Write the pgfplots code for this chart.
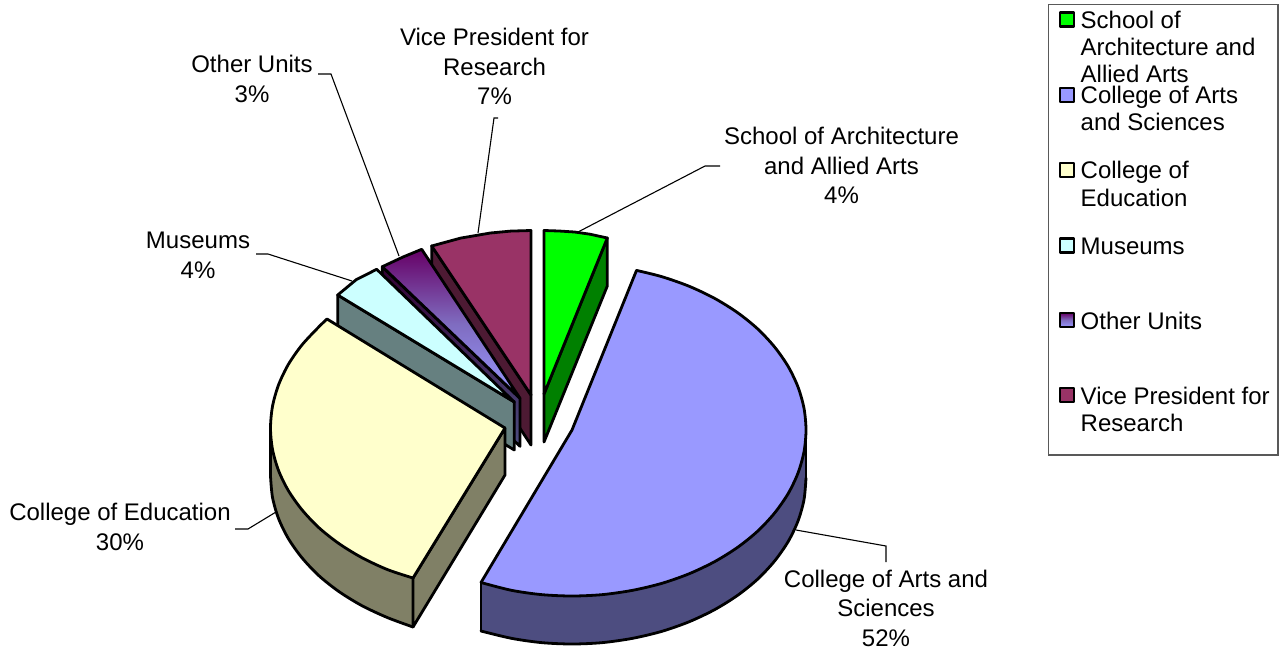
\documentclass[border=0pt]{standalone}
\usepackage{pgfplots}
\usepackage{fontspec}
\setmainfont{Liberation Sans}
\pgfplotsset{compat=1.18}
\definecolor{cgreen}{HTML}{00FF00}
\definecolor{cgreend}{HTML}{008000}
\definecolor{cblue}{HTML}{9999FF}
\definecolor{cblued}{HTML}{4D4D80}
\definecolor{cyell}{HTML}{FFFFCC}
\definecolor{cyelld}{HTML}{808066}
\definecolor{ccyan}{HTML}{CCFFFF}
\definecolor{ccyand}{HTML}{668080}
\definecolor{cmaroon}{HTML}{993366}
\definecolor{cmaroond}{HTML}{4D1A33}
\definecolor{cpurple}{HTML}{660066}
\definecolor{cpurplem}{HTML}{7F6CC0}
\definecolor{cpurpled}{HTML}{330033}
\pgfplotsset{
  face/.style={draw=black,line width=2.8pt,line join=round,fill=#1},
  flat/.style={draw=none,fill=#1},
  arc/.style={draw=black,line width=2.8pt,line cap=round,smooth},
  edge/.style={draw=black,line width=2.8pt,line cap=round,line join=round},
  leader/.style={draw=black,line width=1.1pt},
}
\newcommand{\lab}[3]{\node[anchor=base,inner sep=0pt] at (axis cs:#1,#2) {#3};}
\newcommand{\leg}[2]{\node[anchor=base west,inner sep=0pt] at (axis cs:1080.5,#1) {#2};}
\begin{document}
\begin{tikzpicture}[font=\fontsize{24}{28}\selectfont]
\path[use as bounding box] (0,0) rectangle (1284pt,649pt);
\begin{axis}[
  at={(0,0)},anchor=south west,
  width=1284pt,height=649pt,scale only axis,
  xmin=0,xmax=1284,ymin=0,ymax=649,y dir=reverse,
  hide axis,clip=false]

% leader lines
\addplot[leader] coordinates {(578,232) (705,166) (720,166)};
\addplot[leader] coordinates {(478,233) (494,118) (498,118)};
\addplot[leader] coordinates {(399,256) (331,74) (318,74)};
\addplot[leader] coordinates {(352,281) (268,254) (256,254)};
\addplot[leader] coordinates {(276,512) (248,529) (235,529)};
\addplot[leader] coordinates {(796,530) (886,546) (886,562)};

% vice president
\addplot[face=cmaroond] coordinates {(431.7,246) (531,395) (531,445) (431.7,294)} --cycle;
\addplot[face=cmaroon] coordinates {(431.7,246) (460.6,238.1) (490.4,233) (510.6,231.1) (531,230.5) (531,395)} --cycle;

% other units
\addplot[draw=black,line width=2.8pt,line join=round,shade,top color=cpurpled,bottom color=cblued]
  coordinates {(382.3,266.7) (520,398.3) (520,446.3) (382.3,314.7)} --cycle;
\addplot[draw=black,line width=2.8pt,line join=round,shade,top color=cpurple,bottom color=cblue,middle color=cpurplem]
  coordinates {(382.3,266.7) (403,257) (421.7,249.3) (520,398.3)} --cycle;

% museums
\addplot[face=ccyand] coordinates {(337.7,295) (514.3,402) (514.3,450) (337.7,343)} --cycle;
\addplot[face=ccyan] coordinates {(337.7,295) (356.3,279.6) (376.7,269.3) (514.3,402)} --cycle;

% education
\addplot[flat=cyelld] coordinates {
  (270.5,428) (272.5,449.4) (278.5,470.4) (288.3,490.5) (301.9,509.7) (318.8,527.6)
  (339,543.6) (362,557.7) (387.5,569.6) (413,578)
  (413,627) (387.5,617.6) (362,605.7) (339,591.6) (318.8,575.6) (301.9,557.7)
  (288.3,538.5) (278.5,518.4) (272.5,497.4) (270.5,476)} --cycle;
\addplot[edge] coordinates {(270.5,428) (270.5,476)};
\addplot[arc] coordinates {(270.5,476) (272.5,497.4) (278.5,518.4) (288.3,538.5)
  (301.9,557.7) (318.8,575.6) (339,591.6) (362,605.7) (387.5,617.6) (413,627)};
\addplot[face=cyelld] coordinates {(413,578) (505,428) (505,475) (413,627)} --cycle;
\addplot[flat=cyell] coordinates {
  (327,319) (318.8,326.9) (301.9,345) (288.3,364.5) (278.5,385) (272.5,406.3)
  (270.5,428) (272.5,449.4) (278.5,470.4) (288.3,490.5) (301.9,509.7) (318.8,527.6)
  (339,543.6) (362,557.7) (387.5,569.6) (413,578) (505,428)} --cycle;
\addplot[arc] coordinates {
  (327,319) (318.8,326.9) (301.9,345) (288.3,364.5) (278.5,385) (272.5,406.3)
  (270.5,428) (272.5,449.4) (278.5,470.4) (288.3,490.5) (301.9,509.7) (318.8,527.6)
  (339,543.6) (362,557.7) (387.5,569.6) (413,578)};
\addplot[edge] coordinates {(413,578) (505,428) (327,319)};

% architecture
\addplot[face=cgreend] coordinates {(544,394) (607.3,238) (607.3,286) (544,442)} --cycle;
\addplot[face=cgreen] coordinates {(544,230.5) (559,231) (574.5,232) (590,234.2) (607.3,238) (544,394)} --cycle;

% arts and sciences
\addplot[flat=cblued] coordinates {
  (806,430) (804,451.7) (798,473) (788.2,493.5) (774.6,513) (757.7,531.1)
  (737.5,547.4) (714.5,561.7) (689,573.8) (661.6,583.4) (632.6,590.3) (602.5,594.6)
  (572,596) (541.5,594.6) (511.4,590.3) (481,582.5)
  (481,631) (511.4,638.3) (541.5,642.6) (572,644) (602.5,642.6) (632.6,638.3)
  (661.6,631.4) (689,621.8) (714.5,609.7) (737.5,595.4) (757.7,579.1) (774.6,561)
  (788.2,541.5) (798,521) (804,499.7) (806,478)} --cycle;
\addplot[arc] coordinates {
  (481,631) (511.4,638.3) (541.5,642.6) (572,644) (602.5,642.6) (632.6,638.3)
  (661.6,631.4) (689,621.8) (714.5,609.7) (737.5,595.4) (757.7,579.1) (774.6,561)
  (788.2,541.5) (798,521) (804,499.7) (806,478)};
\addplot[edge] coordinates {(806,478) (806,430)};
\addplot[edge] coordinates {(481,582.5) (481,631)};
\addplot[flat=cblue] coordinates {
  (636.5,270.4) (661.6,276.6) (689,286.2) (714.5,298.3) (737.5,312.6) (757.7,328.9)
  (774.6,347) (788.2,366.5) (798,387) (804,408.3) (806,430) (804,451.7) (798,473)
  (788.2,493.5) (774.6,513) (757.7,531.1) (737.5,547.4) (714.5,561.7) (689,573.8)
  (661.6,583.4) (632.6,590.3) (602.5,594.6) (572,596) (541.5,594.6) (511.4,590.3)
  (481,582.5) (572,430)} --cycle;
\addplot[arc] coordinates {
  (636.5,270.4) (661.6,276.6) (689,286.2) (714.5,298.3) (737.5,312.6) (757.7,328.9)
  (774.6,347) (788.2,366.5) (798,387) (804,408.3) (806,430) (804,451.7) (798,473)
  (788.2,493.5) (774.6,513) (757.7,531.1) (737.5,547.4) (714.5,561.7) (689,573.8)
  (661.6,583.4) (632.6,590.3) (602.5,594.6) (572,596) (541.5,594.6) (511.4,590.3)
  (481,582.5)};
\addplot[edge] coordinates {(481,582.5) (572,430) (636.5,270.4)};

% data labels
\lab{841.5}{144.5}{School of Architecture}
\lab{841.5}{174}{and Allied Arts}
\lab{841.5}{203}{4\%}
\lab{494.5}{45}{Vice President for}
\lab{494.5}{75}{Research}
\lab{494.5}{104}{7\%}
\lab{252}{72.5}{Other Units}
\lab{252}{102}{3\%}
\lab{198}{248}{Museums}
\lab{198}{278}{4\%}
\lab{120}{520.5}{College of Education}
\lab{120}{550}{30\%}
\lab{886}{587}{College of Arts and}
\lab{886}{616.5}{Sciences}
\lab{886}{646}{52\%}

% legend
\addplot[draw=black!65,line width=1.4pt,fill=white] coordinates {(1048.5,4.5) (1278,4.5) (1278,455) (1048.5,455)} --cycle;
\addplot[face=cgreen] coordinates {(1060,12.5) (1074,12.5) (1074,26.5) (1060,26.5)} --cycle;
\addplot[face=cblue] coordinates {(1060,88) (1074,88) (1074,102) (1060,102)} --cycle;
\addplot[face=cyell] coordinates {(1060,163) (1074,163) (1074,177) (1060,177)} --cycle;
\addplot[face=ccyan] coordinates {(1060,238.5) (1074,238.5) (1074,252.5) (1060,252.5)} --cycle;
\addplot[draw=black,line width=2.8pt,line join=round,shade,top color=cpurple,bottom color=cblue,middle color=cpurplem]
  coordinates {(1060,313) (1074,313) (1074,327) (1060,327)} --cycle;
\addplot[face=cmaroon] coordinates {(1060,388) (1074,388) (1074,402) (1060,402)} --cycle;
\leg{28}{School of}
\leg{55}{Architecture and}
\leg{82}{Allied Arts}
\leg{103}{College of Arts}
\leg{130}{and Sciences}
\leg{178}{College of}
\leg{206}{Education}
\leg{254.5}{Museums}
\leg{329.5}{Other Units}
\leg{404}{Vice President for}
\leg{431.5}{Research}
\end{axis}
\end{tikzpicture}
\end{document}
